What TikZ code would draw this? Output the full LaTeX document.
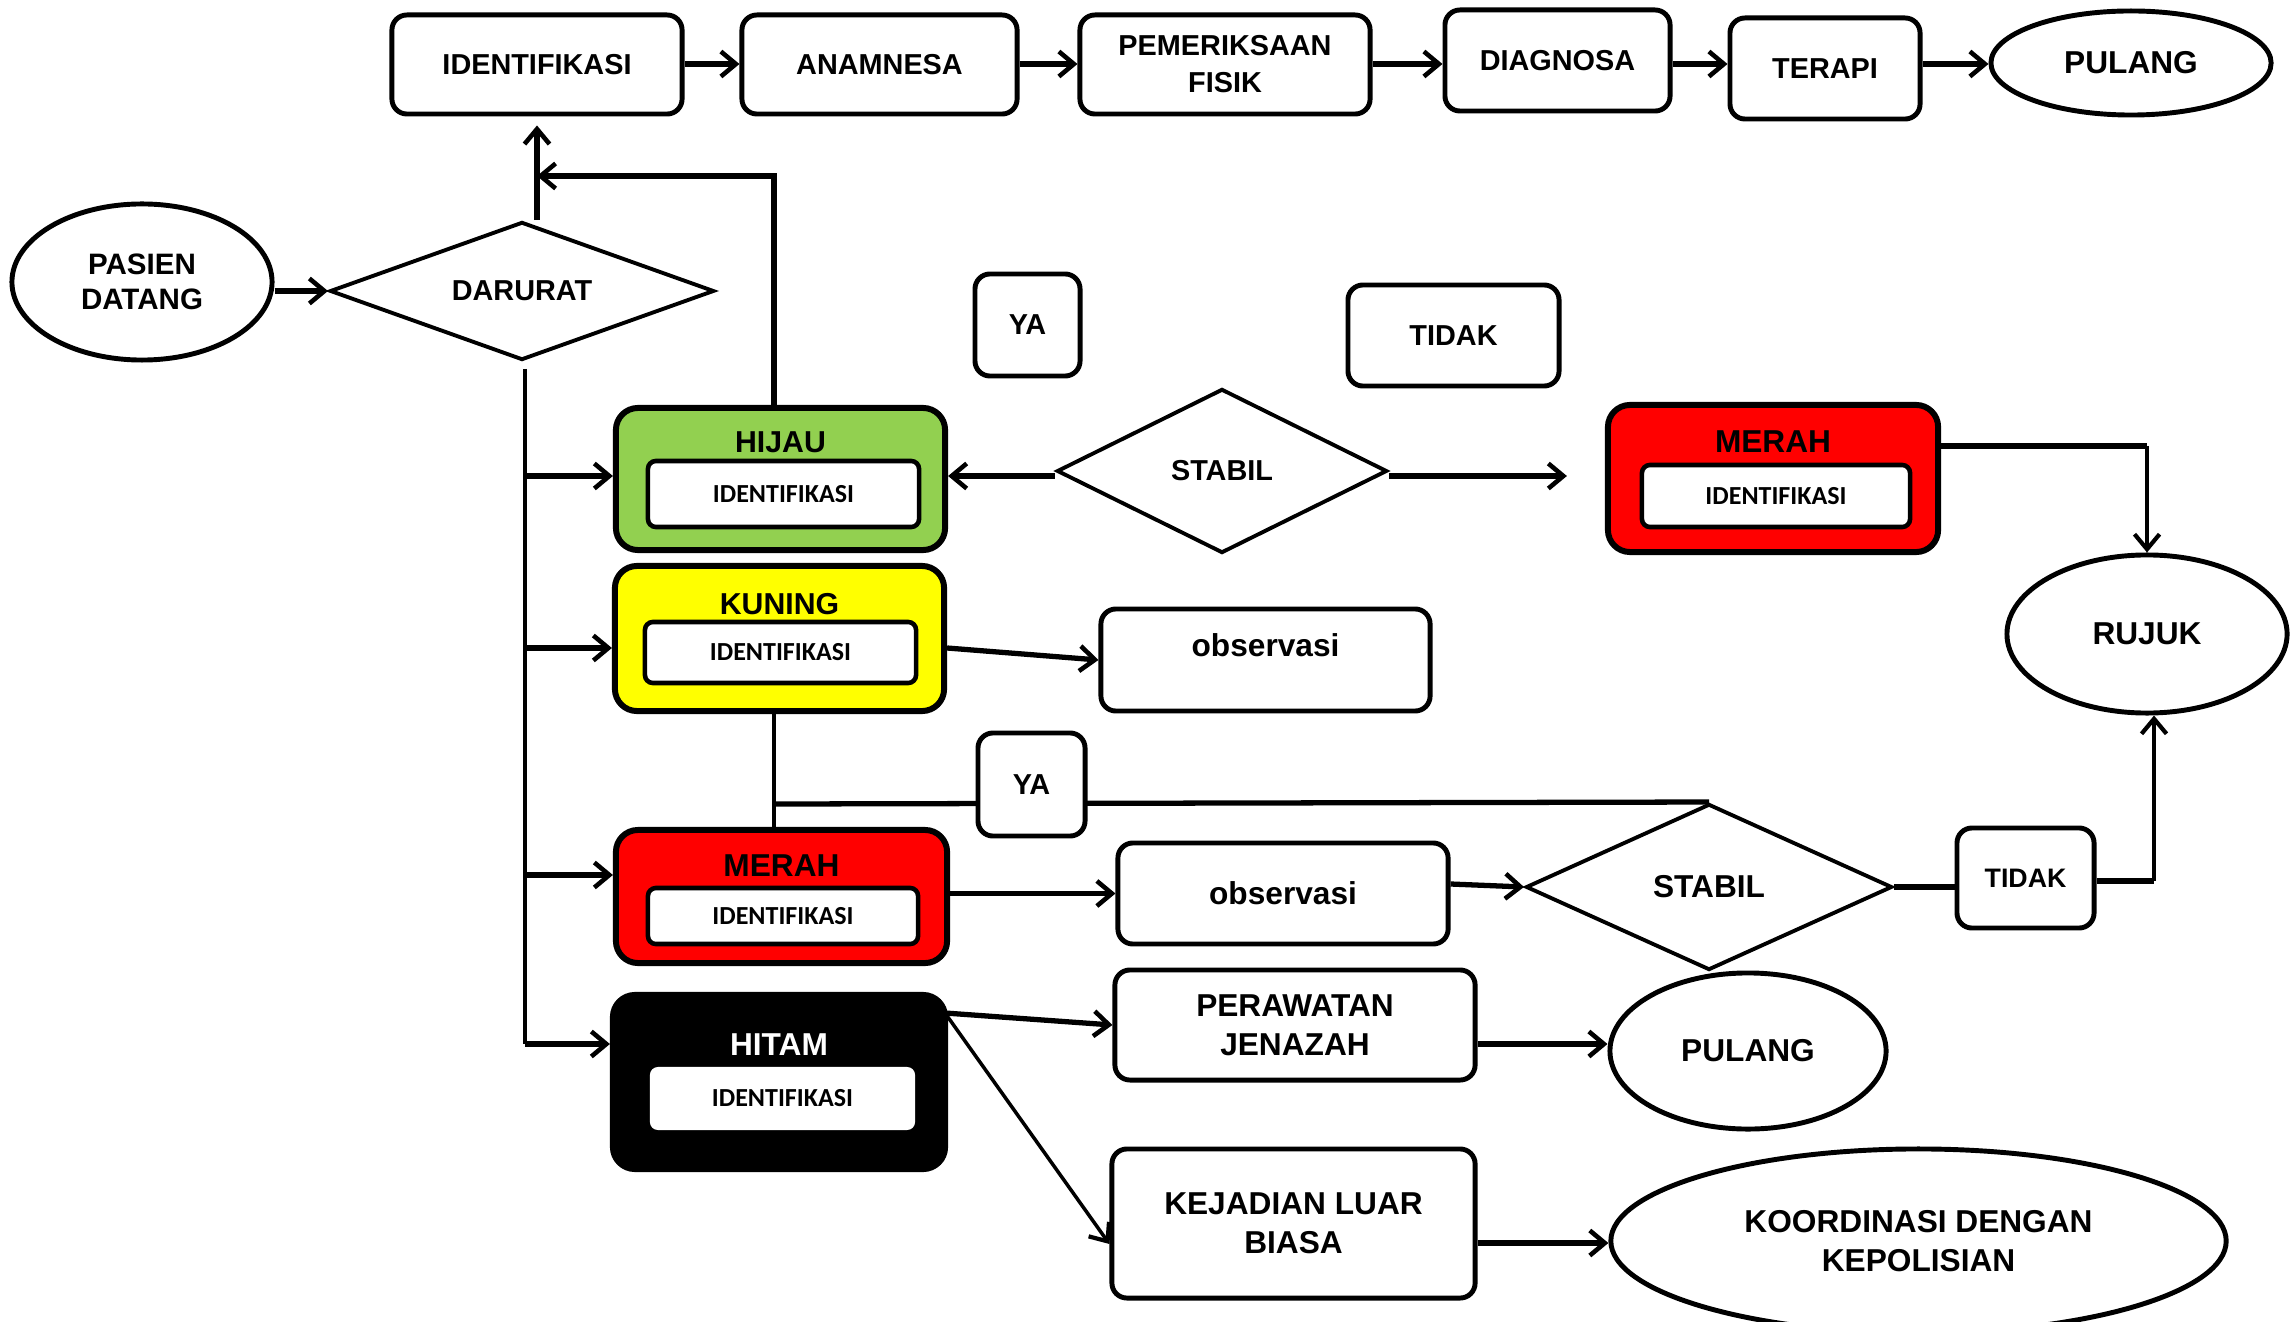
\documentclass[tikz,border=0pt]{standalone}
\usepackage{fontspec}
\setmainfont{Liberation Sans}
\newfontfamily\calib{Carlito}
\usetikzlibrary{shapes.geometric,arrows.meta,calc}
\pgfdeclarelayer{bg}
\pgfsetlayers{bg,main}
\definecolor{hijaucol}{HTML}{92D050}
\definecolor{kuningcol}{HTML}{FFFF00}
\definecolor{merahcol}{HTML}{FF0000}
\begin{document}
\begin{tikzpicture}[x=0.01cm,y=-0.01cm,
 box/.style={draw, rounded corners=0.15cm, line width=1.4pt, fill=white, align=center, inner sep=1pt, font=\bfseries\fontsize{8.2}{10.5}\selectfont},
 bigbox/.style={box, font=\bfseries\fontsize{9}{11}\selectfont},
 oval/.style={draw, ellipse, line width=1.4pt, fill=white, align=center, inner sep=0pt, font=\bfseries\fontsize{9}{11}\selectfont},
 dia/.style={draw, diamond, line width=1.1pt, fill=white, inner sep=0pt, aspect=2, font=\bfseries\fontsize{8.2}{10}\selectfont},
 tbox/.style={draw, rounded corners=0.22cm, line width=1.7pt, inner sep=0pt},
 inbox/.style={draw, rounded corners=0.08cm, line width=1.3pt, fill=white, inner sep=0pt, font=\calib\bfseries\fontsize{7.4}{9}\selectfont},
 ttl/.style={inner sep=0pt, font=\bfseries\fontsize{8.6}{10}\selectfont},
 arr/.style={line width=1.5pt, -{Straight Barb[length=1.5mm,width=2.5mm,line width=1.3pt]}},
 tarr/.style={line width=1pt, -{Straight Barb[length=1.5mm,width=2.5mm,line width=1.2pt]}},
 ln/.style={line width=1.5pt},
 tln/.style={line width=1pt}]
\useasboundingbox (0,0) rectangle (2295,1322);

% top row
\node[box, minimum width=2.90cm, minimum height=0.99cm] (id1) at (537,64.5) {IDENTIFIKASI};
\node[box, minimum width=2.75cm, minimum height=0.99cm] (anam) at (879.5,64.5) {ANAMNESA};
\node[box, minimum width=2.90cm, minimum height=0.99cm] (pem) at (1225,64.5) {PEMERIKSAAN\\FISIK};
\node[box, minimum width=2.25cm, minimum height=1.01cm] (diag) at (1557.5,60.5) {DIAGNOSA};
\node[box, minimum width=1.90cm, minimum height=1.01cm] (terapi) at (1825,68.5) {TERAPI};
\node[oval, minimum width=2.80cm, minimum height=1.04cm] (pul1) at (2131,63) {PULANG};

% left
\node[oval, minimum width=2.60cm, minimum height=1.56cm, font=\bfseries\fontsize{8.4}{10}\selectfont] (pasien) at (142,282) {PASIEN\\DATANG};
\node[dia, minimum width=3.84cm, minimum height=1.38cm] (darurat) at (522,291) {DARURAT};

\node[box, minimum width=1.05cm, minimum height=1.02cm] (ya1) at (1027.5,325) {YA};
\node[box, minimum width=2.11cm, minimum height=1.01cm] (tidak1) at (1453.5,335.5) {TIDAK};
\node[dia, minimum width=3.30cm, minimum height=1.64cm] (stabil1) at (1222,471) {STABIL};

% triage boxes
\node[tbox, fill=hijaucol, minimum width=3.29cm, minimum height=1.42cm] (hijau) at (780.5,479) {};
\node[ttl] (hijauT) at (780.5,442) {HIJAU};
\node[inbox, minimum width=2.71cm, minimum height=0.66cm] (hijauI) at (783.5,494) {IDENTIFIKASI};

\node[tbox, fill=kuningcol, minimum width=3.29cm, minimum height=1.45cm] (kuning) at (779.5,638.5) {};
\node[ttl] (kuningT) at (779.5,604) {KUNING};
\node[inbox, minimum width=2.71cm, minimum height=0.61cm] (kuningI) at (780.5,652.5) {IDENTIFIKASI};

\node[tbox, fill=merahcol, minimum width=3.31cm, minimum height=1.33cm] (merahL) at (781.5,896.5) {};
\node[ttl, font=\bfseries\fontsize{9}{10}\selectfont] (merahLT) at (781.5,866) {MERAH};
\node[inbox, minimum width=2.70cm, minimum height=0.56cm] (merahLI) at (783,916) {IDENTIFIKASI};

\node[tbox, fill=black, minimum width=3.32cm, minimum height=1.74cm] (hitam) at (779,1082) {};
\node[ttl, text=white, font=\bfseries\fontsize{9}{10}\selectfont] (hitamT) at (779,1045) {HITAM};
\node[inbox, draw=none, minimum width=2.65cm, minimum height=0.63cm] (hitamI) at (782.5,1098.5) {IDENTIFIKASI};

\node[tbox, fill=merahcol, minimum width=3.30cm, minimum height=1.47cm] (merahR) at (1773,478.5) {};
\node[ttl, font=\bfseries\fontsize{9}{10}\selectfont] (merahRT) at (1773,442) {MERAH};
\node[inbox, minimum width=2.68cm, minimum height=0.62cm] (merahRI) at (1776,496) {IDENTIFIKASI};

% right side
\node[oval, minimum width=2.80cm, minimum height=1.58cm] (rujuk) at (2147,634) {RUJUK};
\node[box, minimum width=3.29cm, minimum height=1.02cm] (obs1) at (1265.5,660) {};
\node[inner sep=0pt, font=\bfseries\fontsize{9}{11}\selectfont] (obs1t) at (1265.5,645) {observasi};
\node[box, minimum width=1.07cm, minimum height=1.03cm] (ya2) at (1031.5,784.5) {YA};
\node[bigbox, minimum width=3.30cm, minimum height=1.01cm] (obs2) at (1283,893.5) {observasi};
\node[dia, minimum width=3.66cm, minimum height=1.66cm, font=\bfseries\fontsize{9}{10}\selectfont] (stabil2) at (1709,887) {STABIL};
\node[box, minimum width=1.37cm, minimum height=1.00cm, font=\bfseries\fontsize{7.6}{9}\selectfont] (tidak2) at (2025.5,878) {TIDAK};
\node[bigbox, minimum width=3.60cm, minimum height=1.10cm] (peraw) at (1295,1025) {PERAWATAN\\JENAZAH};
\node[oval, minimum width=2.76cm, minimum height=1.56cm] (pul2) at (1748,1051) {PULANG};
\node[bigbox, minimum width=3.63cm, minimum height=1.49cm] (kej) at (1293.5,1223.5) {KEJADIAN LUAR\\BIASA};
\node[oval, minimum width=6.15cm, minimum height=1.84cm] (koord) at (1918.5,1241) {KOORDINASI DENGAN\\KEPOLISIAN};

\coordinate (j1) at (537,176);
\coordinate (bt) at (525,369);
\coordinate (bb) at (525,1044);
\coordinate (j2) at (774,804);
\coordinate (hc) at (945,1013);

\begin{pgfonlayer}{bg}
% top row
\draw[arr] (id1.east |- 0,64) -- (anam.west |- 0,64);
\draw[arr] (anam.east |- 0,64) -- (pem.west |- 0,64);
\draw[arr] (pem.east |- 0,64) -- (diag.west |- 0,64);
\draw[arr] (diag.east |- 0,64) -- (terapi.west |- 0,64);
\draw[arr] (terapi.east |- 0,64) -- (pul1.west |- 0,64);
% darurat
\draw[arr] (pasien.east |- darurat.west) -- (darurat.west);
\draw[arr, shorten >=0.09cm] (darurat.north -| id1.south) -- (id1.south);
\draw[arr] ([xshift=-0.065cm]hijau.north) |- (j1);
% bus
\draw[tln] (bt) -- (bb);
\draw[arr] (bt |- 0,476) -- (hijau.west |- 0,476);
\draw[arr] (bt |- 0,648) -- (kuning.west |- 0,648);
\draw[arr] (bt |- 0,875) -- (merahL.west |- 0,875);
\draw[arr] (bb) -- (hitam.west |- bb);
% stabil 1
\draw[arr] (stabil1.west |- 0,476) -- (hijau.east |- 0,476);
\draw[arr, shorten >=0.38cm] (stabil1.east |- 0,476) -- (merahR.west |- 0,476);
\draw[ln] (merahR.east |- 0,446) -- (rujuk.north |- 0,446);
\draw[tarr] (rujuk.north |- 0,446) -- (rujuk.north);
% kuning
\draw[arr] (kuning.east |- 0,648) -- (obs1.west);
% stabil 2
\draw[ln] (stabil2.north) -- (j2);
\draw[tln] (kuning.south -| j2) -- (merahL.north -| j2);
\draw[arr] (merahL.east |- obs2.west) -- (obs2.west);
\draw[arr] (obs2.east |- 0,884) -- (stabil2.west);
\draw[ln] (stabil2.east) -- (tidak2.west |- stabil2.east);
\draw[ln] (tidak2.east |- 0,881) -- (2154,881);
\draw[tarr] (2154,881) -- (rujuk.south -| 2154,0);
% hitam
\draw[arr] (hc) -- (peraw.west |- 0,1025);
\draw[tarr] (hc) -- (kej.west |- 0,1244);
\draw[arr] (peraw.east |- 0,1044) -- (pul2.west |- 0,1044);
\draw[arr] (kej.east |- 0,1243) -- (koord.west |- 0,1243);
\end{pgfonlayer}
\end{tikzpicture}
\end{document}
